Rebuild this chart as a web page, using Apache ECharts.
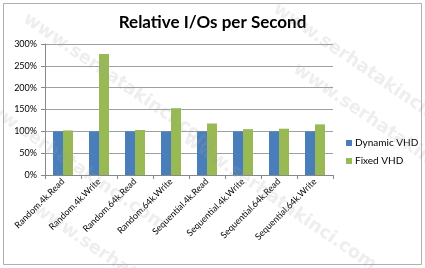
<!DOCTYPE html>
<html><head><meta charset="utf-8">
<script src="https://cdn.jsdelivr.net/npm/echarts@6/dist/echarts.min.js"></script>
<style>html,body{margin:0;padding:0;background:#fff}#c{width:425px;height:268px}</style>
</head><body><div id="c"></div>
<script>
const categories = ['Random.4k.Read','Random.4k.Write','Random.64k.Read','Random.64k.Write','Sequential.4k.Read','Sequential.4k.Write','Sequential.64k.Read','Sequential.64k.Write'];
const dynamicVHD = [100,100,100,100,100,100,100,100];
const fixedVHD = [102,277,103,153,118,105,106,116];
const seriesNames = ['Dynamic VHD','Fixed VHD'];
const title = 'Relative I/Os per Second';
const watermark = 'www.serhatakinci.com';

const chart = echarts.init(document.getElementById('c'));
const wm = (x,y)=>({type:'text',x:x,y:y,rotation:-0.6,z:100,silent:true,
  style:{text:watermark,fill:'rgba(160,160,160,0.18)',font:'bold 18px "DejaVu Sans"'}});
chart.setOption({
  animation:false,
  title:{text:title,left:'center',top:9,textStyle:{fontFamily:'Lato',fontWeight:'bold',fontSize:17,color:'#000'}},
  legend:{orient:'vertical',left:341,top:133,itemWidth:6,itemHeight:6,itemGap:8,icon:'rect',
    textStyle:{fontFamily:'Lato',fontSize:10,color:'#000',padding:[0,0,0,-2]}},
  grid:{left:45,right:92,top:44,bottom:93},
  xAxis:{type:'category',data:categories,
    axisLine:{lineStyle:{color:'#888'}},
    axisTick:{show:true,alignWithLabel:false,length:4,lineStyle:{color:'#888'}},
    axisLabel:{rotate:45,fontFamily:'Lato',fontSize:9,color:'#000',margin:5,interval:0}},
  yAxis:{type:'value',min:0,max:300,interval:50,
    axisLine:{show:true,lineStyle:{color:'#888'}},
    axisTick:{show:true,length:4,lineStyle:{color:'#888'}},
    splitLine:{lineStyle:{color:'#a0a0a0'}},
    axisLabel:{formatter:'{value}%',fontFamily:'Lato',fontSize:9,color:'#000',margin:8}},
  series:[
    {name:seriesNames[0],type:'bar',data:dynamicVHD,barWidth:10,barGap:'0%',itemStyle:{color:'#4a7ebb'}},
    {name:seriesNames[1],type:'bar',data:fixedVHD,barWidth:10,itemStyle:{color:'#98b954'}}
  ],
  graphic:[
    {type:'rect',shape:{x:3.5,y:3.5,width:418,height:261},style:{fill:'none',stroke:'#b0b0b0',lineWidth:1},silent:true},
    wm(30,10), wm(280,0), wm(300,60), wm(-20,90), wm(190,130), wm(40,200)
  ]
});
</script></body></html>
